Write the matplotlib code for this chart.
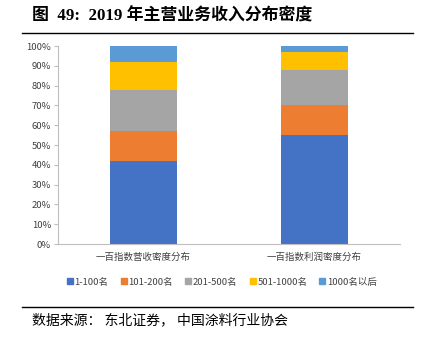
import matplotlib.pyplot as plt
import numpy as np
from matplotlib.lines import Line2D

plt.rcParams['font.family'] = ['Noto Sans CJK SC', 'DejaVu Sans']

categories = ['一百指数营收密度分布', '一百指数利润密度分布']
series = ['1-100名', '101-200名', '201-500名', '501-1000名', '1000名以后']
values = {
    '1-100名': [42, 55],
    '101-200名': [15, 15],
    '201-500名': [21, 18],
    '501-1000名': [14, 9],
    '1000名以后': [8, 3],
}
colors = ['#4472C4', '#ED7D31', '#A5A5A5', '#FFC000', '#5B9BD5']
yticks = np.arange(0, 101, 10)

fig = plt.figure(figsize=(4.28, 3.39), dpi=100)
ax = fig.add_axes([0.1355, 0.280, 0.799, 0.584])

x = np.arange(len(categories))
bottom = np.zeros(len(categories))
for s, c in zip(series, colors):
    ax.bar(x, values[s], 0.39, bottom=bottom, color=c, label=s)
    bottom += np.array(values[s])

ax.set_xlim(-0.5, 1.5)
ax.set_ylim(0, 100)
ax.set_yticks(yticks)
ax.set_yticklabels([f'{v}%' for v in yticks], fontsize=6.8, color='#404040')
ax.set_xticks(x)
ax.set_xticklabels(categories, fontsize=6.8, color='#404040')
ax.tick_params(axis='x', length=0, pad=6)
ax.tick_params(axis='y', length=3, color='#BFBFBF', pad=2)
for sp in ['top', 'right']:
    ax.spines[sp].set_visible(False)
for sp in ['left', 'bottom']:
    ax.spines[sp].set_color('#BFBFBF')
    ax.spines[sp].set_linewidth(0.8)

handles = [Line2D([], [], marker='s', linestyle='', markersize=4, color=c) for c in colors]
fig.legend(handles, series, loc='center', bbox_to_anchor=(222 / 428, 1 - 282 / 339), ncol=5,
           frameon=False, fontsize=6.8, handlelength=0.6, handletextpad=0.2,
           columnspacing=1.3, labelcolor='#404040')

# title and source
fig.text(32 / 428, 1 - 16 / 339, '图  49:  2019 年主营业务收入分布密度', fontsize=12.2, fontweight='bold',
         family=['Liberation Serif', 'Noto Sans CJK SC'], va='center', ha='left')
fig.add_artist(Line2D([22 / 428, 413 / 428], [1 - 33 / 339] * 2, color='black', linewidth=1.0))
fig.add_artist(Line2D([22 / 428, 413 / 428], [1 - 307 / 339] * 2, color='black', linewidth=1.0))
fig.text(32 / 428, 1 - 320 / 339, '数据来源： 东北证券， 中国涂料行业协会', fontsize=10,
         va='center', ha='left')

fig.savefig('out.png', dpi=100)
